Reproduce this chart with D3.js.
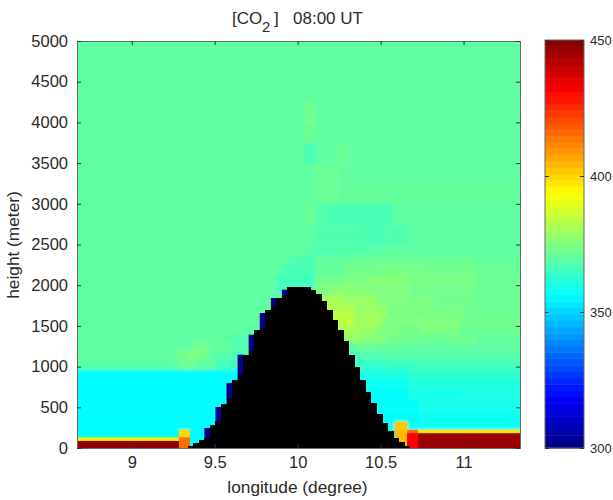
<!DOCTYPE html>
<html>
<head>
<meta charset="utf-8">
<script src="https://cdn.jsdelivr.net/npm/d3@7"></script>
<style>
body { margin: 0; background: #fff; }
text { font-family: "Liberation Sans", Arial, sans-serif; fill: #2a2a2a; }
</style>
</head>
<body>
<div id="chart"></div>
<script>
// height bands of the CO2 field, metres
let heightEdges = [0, 90, 135, 185, 220, 320, 475, 600, 725, 850, 960, 1090, 1200, 1300, 1400, 1500,
    1625, 1750, 1875, 2000, 2125, 2250, 2375, 2500, 2750, 3000, 3250, 3500, 3750, 4000, 4250, 5000];

let lonMin = 8.67, lonMax = 11.34, colCount = 80;

// one row per height band, bottom to top: [first column, ppm] runs
let co2Rows = [
    [[0,447],[18.4,415],[20.4,356],[57.4,404],[59.6,432],[61.6,446]],
    [[0,397],[18.4,415],[20.4,356],[57.4,404],[59.6,432],[61.6,446]],
    [[0,357],[18.4,400],[20.4,356],[57.4,404],[59.6,432],[61.6,446]],
    [[0,357],[18.4,400],[20.4,356],[57.4,404],[59.6,416],[61.6,398]],
    [[0,356],[54,358],[57.4,402],[59.6,358]],
    [[0,356],[54,357],[62,358]],
    [[0,356],[54,357],[62,359]],
    [[0,356],[52,357],[60,359],[70,360]],
    [[0,356],[52,358],[60,361]],
    [[0,356],[30,357],[50,360],[60,363]],
    [[0,369],[17,370],[19,372],[21,370],[25,366],[50,364],[56,365],[62,366]],
    [[0,370],[18,373],[20,375],[22,373],[24,369],[28,367],[50,368],[56,369]],
    [[0,370],[21,373],[24,371],[28,368],[50,372],[54,371],[60,370]],
    [[0,370],[27,368],[48,378],[52,376],[56,373],[62,372],[68,373],[72,371]],
    [[0,370],[30,369],[46,381],[50,379],[54,375],[58,373],[62,375],[69,372]],
    [[0,370],[34,369],[46,384],[50,380],[55,375],[62,375],[69,373]],
    [[0,370],[36,368],[44,383],[50,379],[56,374],[70,372]],
    [[0,370],[36,368],[43,381],[48,379],[54,375],[64,373],[72,372]],
    [[0,370],[36,366],[43,375],[46,377],[52,375],[60,373],[72,372]],
    [[0,370],[36,366],[43,373],[48,374],[52,376],[60,374],[72,372]],
    [[0,370],[37,367],[43,371],[48,373],[54,374],[62,373],[72,372]],
    [[0,370],[38,368],[43,370],[46,371],[50,372],[72,371]],
    [[0,370],[42,368],[52,369],[56,370]],
    [[0,370],[43,368],[52,367],[56,368],[60,370]],
    [[0,370],[41,372],[43,369],[45,367],[55,367],[57,370]],
    [[0,370],[43,372],[47,371]],
    [[0,370],[43,372],[47,371],[49,370]],
    [[0,370],[41,367],[43,370],[47,372],[49,370]],
    [[0,370],[41,372],[43,370]],
    [[0,370],[41,373],[43,370]],
    [[0,370]]
];

// top of the black terrain per column, from column 20
let terrainStart = 20;
let terrainTop = [30, 60, 100, 120, 287, 330, 545, 614, 840, 900, 1147, 1208, 1445, 1474, 1700, 1740, 1843, 1884,
    1975, 1975, 1975, 1975, 1937, 1896, 1800, 1700, 1577, 1445, 1310, 1147, 995, 840, 684, 553, 422, 307, 205, 123, 70, 20];

// dark blue low-value cells sitting on the left slope: [column, top height]
let slopeCaps = [[23, 245], [25, 504], [27, 800], [29, 1147], [31, 1392], [33, 1658], [35, 1843], [37, 1945]];

let lonTicks = [9, 9.5, 10, 10.5, 11];
let heightTicks = [0, 500, 1000, 1500, 2000, 2500, 3000, 3500, 4000, 4500, 5000];
let co2Ticks = [300, 350, 400, 450];

let margin = { top: 41, left: 77 },
    width = 443,
    height = 407;

let svg = d3.select("#chart").append("svg")
    .attr("width", 613)
    .attr("height", 500)
    .style("display", "block");

// the picture is a soft jpeg, keep the cell edges blurred
let defs = svg.append("defs");
defs.append("filter").attr("id", "soft").append("feGaussianBlur").attr("stdDeviation", 1.6);
defs.append("filter").attr("id", "sharp").append("feGaussianBlur").attr("stdDeviation", 0.5);
defs.append("clipPath").attr("id", "plotClip")
    .append("rect").attr("width", width).attr("height", height);

let g = svg.append("g").attr("transform", `translate(${margin.left},${margin.top})`);

let x = d3.scaleLinear().domain([lonMin, lonMax]).range([0, width]);
let y = d3.scaleLinear().domain([0, 5000]).range([height, 0]);
let colX = d3.scaleLinear().domain([0, colCount]).range([0, width]);

let jet = d3.scaleLinear()
    .domain([300, 318.75, 356.25, 393.75, 431.25, 450])
    .range(["#000080", "#0000ff", "#00ffff", "#ffff00", "#ff0000", "#800000"])
    .clamp(true);

let plot = g.append("g").attr("clip-path", "url(#plotClip)");
let field = plot.append("g").attr("filter", "url(#soft)");
let surface = plot.append("g").attr("filter", "url(#sharp)");

// runs on the plot border overshoot a bit so the blur does not fade at the frame
function drawRun(parent, row, r, k) {
    let run = row[k];
    let endCol = k + 1 < row.length ? row[k + 1][0] : colCount;
    let x0 = run[0] === 0 ? -6 : colX(run[0]);
    let x1 = endCol === colCount ? width + 6 : colX(endCol);
    let y0 = r === co2Rows.length - 1 ? -6 : y(heightEdges[r + 1]);
    let y1 = r === 0 ? height + 6 : y(heightEdges[r]);
    parent.append("rect")
        .attr("x", x0)
        .attr("y", y0)
        .attr("width", x1 - x0 + 0.3)
        .attr("height", y1 - y0 + 0.3)
        .attr("fill", jet(run[1]));
}

co2Rows.forEach((row, r) => {
    row.forEach((run, k) => {
        drawRun(field, row, r, k);
        // the band next to the ground stays crisp, only where it is hot
        if (r < 4 || (r === 4 && run[1] > 380)) drawRun(surface, row, r, k);
    });
});

surface.selectAll(".cap")
    .data(slopeCaps)
    .enter()
    .append("rect")
    .attr("class", "cap")
    .attr("x", d => colX(d[0]))
    .attr("y", d => y(d[1]))
    .attr("width", colX(1) + 0.5)
    .attr("height", d => height + 6 - y(d[1]))
    .attr("fill", jet(302));

surface.selectAll(".terrain")
    .data(terrainTop)
    .enter()
    .append("rect")
    .attr("class", "terrain")
    .attr("x", (d, i) => colX(i + terrainStart))
    .attr("y", d => y(d))
    .attr("width", colX(1) + 1)
    .attr("height", d => height + 6 - y(d))
    .attr("fill", "#000")
    .attr("shape-rendering", "crispEdges");

// axes, matlab style: ticks inside on all four sides
let axisColor = "#666";
function styleAxis(a) {
    a.select(".domain").attr("stroke", axisColor);
    a.selectAll(".tick line").attr("stroke", "#333");
    a.selectAll("text").style("font-size", "16.5px").style("fill", "#2a2a2a").style("font-family", "Liberation Sans");
}

g.append("g").attr("transform", `translate(0,${height})`)
    .call(d3.axisBottom(x).tickValues(lonTicks).tickSize(-4).tickPadding(8).tickFormat(d3.format("")))
    .call(styleAxis);
g.append("g")
    .call(d3.axisTop(x).tickValues(lonTicks).tickSize(-4).tickFormat(""))
    .call(styleAxis);
g.append("g")
    .call(d3.axisLeft(y).tickValues(heightTicks).tickSize(-4).tickPadding(9).tickFormat(d3.format("")))
    .call(styleAxis);
g.append("g").attr("transform", `translate(${width},0)`)
    .call(d3.axisRight(y).tickValues(heightTicks).tickSize(-4).tickFormat(""))
    .call(styleAxis);

// titles
let title = svg.append("text")
    .attr("y", 24)
    .style("font-size", "17px");
title.append("tspan").attr("x", 232).text("[CO");
title.append("tspan").attr("x", 262).attr("dy", 8).style("font-size", "15px").text("2");
title.append("tspan").attr("x", 274).attr("dy", -8).text("]");
title.append("tspan").attr("x", 293).text("08:00 UT");

svg.append("text")
    .attr("x", 297.5)
    .attr("y", 493)
    .attr("text-anchor", "middle")
    .style("font-size", "17.3px")
    .text("longitude (degree)");

svg.append("text")
    .attr("transform", "rotate(-90)")
    .attr("x", -245)
    .attr("y", 19)
    .attr("text-anchor", "middle")
    .style("font-size", "17.3px")
    .text("height (meter)");

// colour bar
let barX = 545, barW = 39, barTop = 40, barH = 408;
let barY = d3.scaleLinear().domain([300, 450]).range([barTop + barH, barTop]);
let barSteps = d3.range(64).map(i => 300 + i * 150 / 64);

let bar = svg.append("g");
let barCells = bar.append("g").attr("filter", "url(#sharp)");
barCells.selectAll("rect")
    .data(barSteps)
    .enter()
    .append("rect")
    .attr("x", barX)
    .attr("y", d => barY(d + 150 / 64))
    .attr("width", barW)
    .attr("height", barH / 64 + 0.5)
    .attr("fill", d => jet(d + 75 / 64));

bar.append("rect")
    .attr("x", barX).attr("y", barTop)
    .attr("width", barW).attr("height", barH)
    .attr("fill", "none").attr("stroke", axisColor);

svg.append("g").attr("transform", `translate(${barX + barW},0)`)
    .call(d3.axisRight(barY).tickValues(co2Ticks).tickSize(-4).tickPadding(6).tickFormat(d3.format("d")))
    .call(a => {
        a.select(".domain").remove();
        a.selectAll(".tick line").attr("stroke", "#333");
        a.selectAll("text").style("font-size", "13px").style("fill", "#2a2a2a").style("font-family", "Liberation Sans");
    });
svg.append("g").attr("transform", `translate(${barX},0)`)
    .call(d3.axisLeft(barY).tickValues(co2Ticks).tickSize(-4).tickFormat(""))
    .call(a => {
        a.select(".domain").remove();
        a.selectAll(".tick line").attr("stroke", "#333");
    });
</script>
</body>
</html>
